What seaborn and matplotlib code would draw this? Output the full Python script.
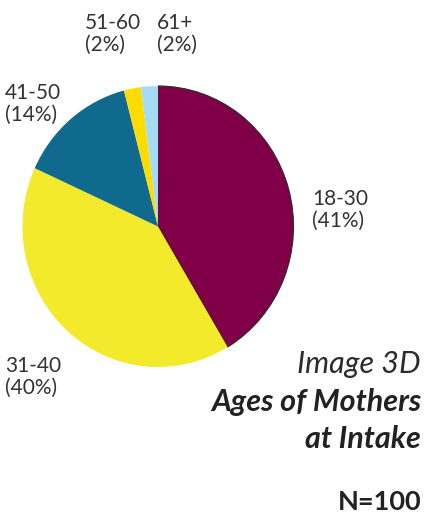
import matplotlib
matplotlib.use("Agg")
import matplotlib.pyplot as plt
import seaborn as sns

sns.set_theme(style="white")
plt.rcParams["font.family"] = ["Lato", "DejaVu Sans"]

# Age groups of mothers at intake (share in %)
age_groups = ["18-30", "31-40", "41-50", "51-60", "61+"]
shares = [41, 40, 14, 2, 2]
colors = ["#800048", "#F2EA2A", "#0F6A8E", "#FFDC00", "#A5DCF3"]

W, H = 425, 514
fig = plt.figure(figsize=(W / 100, H / 100), dpi=100)
fig.patch.set_facecolor("white")

# pie area in pixel space (slightly taller than wide)
cx, cy, rx, ry = 158, 226.5, 135.5, 140.5
ax = fig.add_axes([(cx - rx) / W, 1 - (cy + ry) / H, 2 * rx / W, 2 * ry / H])
wedges, _ = ax.pie(shares, colors=colors, startangle=90, counterclock=False,
                   radius=1.0, wedgeprops=dict(linewidth=0))
wedges[0].set_edgecolor("#2a2a2a")
wedges[0].set_linewidth(0.8)
ax.set_xlim(-1.0, 1.0)
ax.set_ylim(-1.0, 1.0)
ax.set_aspect("auto")
ax.axis("off")

txt_color = "#333333"

def px(x, y):
    return x / W, 1 - y / H

# category labels (x, y centre in pixels)
label_pos = [(312, 210), (5, 377), (5, 104), (85, 34), (157, 34)]
for name, val, (x, y) in zip(age_groups, shares, label_pos):
    fig.text(*px(x, y), f"{name}\n({val}%)", ha="left", va="center",
             fontsize=15, color=txt_color, linespacing=1.15)

fig.text(*px(421, 373), "Image 3D", ha="right", va="baseline",
         fontsize=22, style="italic", color="#2b2b2b")
fig.text(*px(421, 411), "Ages of Mothers", ha="right", va="baseline",
         fontsize=22, style="italic", weight="bold", color="#222222")
fig.text(*px(421, 448), "at Intake", ha="right", va="baseline",
         fontsize=22, style="italic", weight="bold", color="#222222")
fig.text(*px(421, 510), "N=100", ha="right", va="baseline",
         fontsize=19.5, weight="bold", color="#222222")

fig.savefig("out.png", dpi=100, facecolor="white")
